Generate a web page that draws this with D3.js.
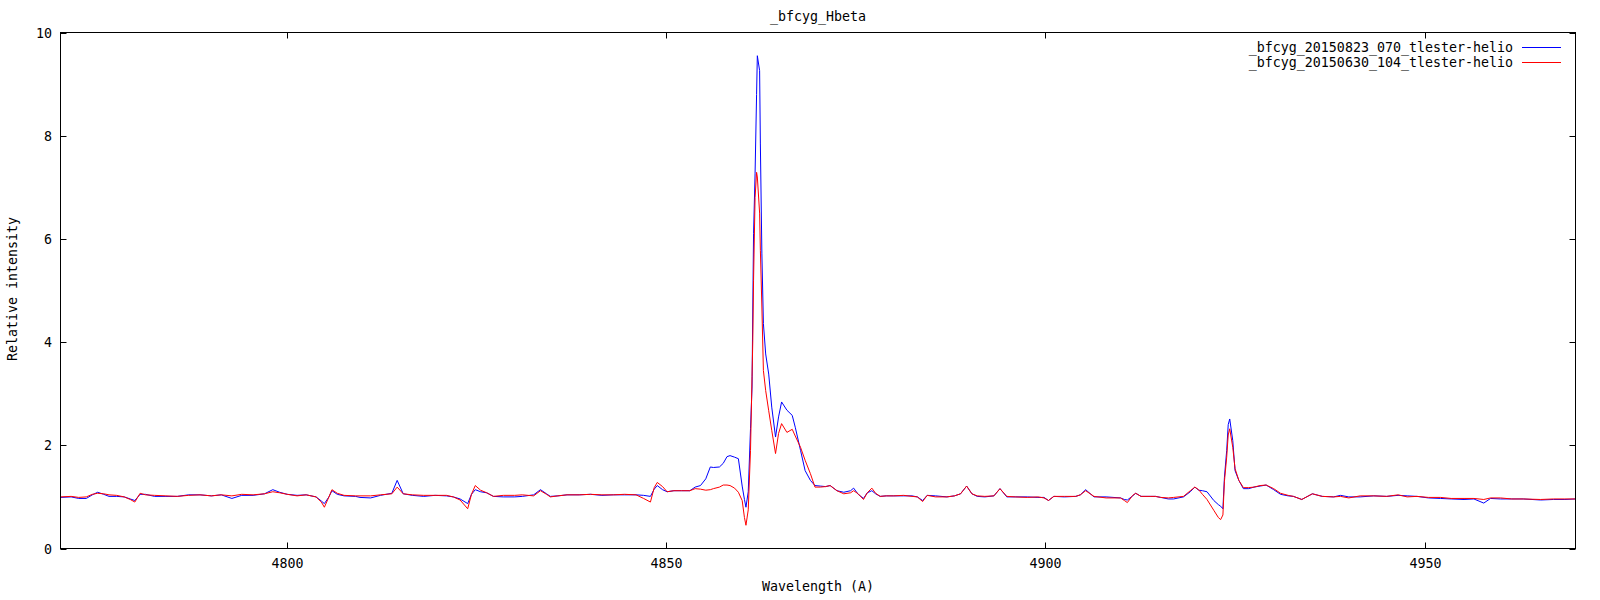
<!DOCTYPE html>
<html><head><meta charset="utf-8">
<script src="https://cdn.jsdelivr.net/npm/d3@7"></script>
<style>
html,body{margin:0;padding:0;background:#fff;}
svg text{font-family:"DejaVu Sans Mono","Liberation Mono",monospace;font-size:13.3px;fill:#000;}
</style></head>
<body><svg id="c" width="1600" height="600"></svg>
<script>
const title = "_bfcyg_Hbeta";
const xLabel = "Wavelength (A)";
const yLabel = "Relative intensity";
const seriesNames = ["_bfcyg_20150823_070_tlester-helio", "_bfcyg_20150630_104_tlester-helio"];
const seriesColors = ["#0000ff", "#ff0000"];
const xTicks = [4800, 4850, 4900, 4950];
const yTicks = [0, 2, 4, 6, 8, 10];

const wavelength = [
4770.1,4771.5,4772.5,4773.5,4774.3,4775.0,4775.8,4776.5,4777.5,4778.5,4779.3,4779.9,4780.6,4781.3,4782.5,4784,4785.5,4787,4788.5,4790,
4791.3,4792.7,4794,4795.5,4797,4798.1,4799,4800,4801.3,4802.5,4803.8,4804.5,4804.9,4805.5,4805.9,4806.6,4807.5,4809,
4809.6,4811,4812.3,4813.8,4814.5,4815.3,4816.5,4818,4819.5,4821,4821.9,4822.8,4823.8,4824.3,4824.8,4825.5,4826.3,4827.2,4828.5,4830,
4831,4832.5,4833.4,4834.2,4834.7,4835.7,4836.9,4838.5,4840,4841.5,4843,4844.5,4846,4847.0,4847.9,4848.4,4848.8,4849.5,4850.1,4851,4852,4853.1,
4853.8,4854.5,4855.2,4855.8,4856.2,4857.0,4857.5,4858.0,4858.4,4859.0,4859.5,4860.0,4860.3,4860.5,4860.8,4861.1,4861.3,4861.4,4861.5,4861.7,
4861.9,4862.0,4862.3,4862.4,4862.6,4862.8,4863.1,4863.5,4863.9,4864.4,4864.8,4865.2,4865.9,4866.6,4867.0,4867.7,4868.3,4869.0,4869.6,4870.3,
4871.0,4871.6,4872.5,4873.4,4874.3,4874.7,4875.3,4876.0,4876.5,4877.1,4877.6,4878.2,4879,4880,4881.3,4882.4,4883.1,4883.8,4884.4,4885.5,
4887,4888,4888.8,4889.6,4890.3,4891.0,4892,4893.2,4894.0,4894.9,4896,4897.6,4899,4899.8,4900.4,4901.1,4902.5,4904,4904.6,4905.3,
4906.0,4906.4,4908,4909.9,4910.4,4910.8,4911.5,4911.9,4912.6,4913.8,4914.5,4915.2,4916.2,4916.9,4918.2,4919.1,4919.7,4920.2,4920.7,4921.3,
4922.2,4922.8,4923.1,4923.4,4923.6,4923.9,4924.1,4924.3,4924.7,4925.0,4925.5,4926.1,4926.8,4927.5,4928.3,4929.1,4930.1,4931.0,4932.0,4932.7,
4933.8,4935.2,4936.5,4938,4938.9,4940,4941.5,4943.3,4945,4946.5,4947.7,4949,4950.5,4952.1,4953.5,4955.2,4956.5,4957.8,4958.7,4960,
4961.5,4963,4965.3,4967,4968.5,4969.9
];
const blueSeries = [
0.99,1.00,0.97,0.97,1.04,1.09,1.05,1.01,1.01,1.00,0.96,0.93,1.05,1.05,1.01,1.01,1.01,1.04,1.04,1.02,
1.04,0.97,1.03,1.03,1.06,1.14,1.09,1.05,1.03,1.04,1.00,0.92,0.87,1.00,1.12,1.05,1.02,1.01,
0.99,0.98,1.03,1.07,1.32,1.06,1.03,1.01,1.03,1.02,1.00,0.96,0.87,1.05,1.14,1.10,1.08,1.01,1.00,1.00,
1.01,1.04,1.14,1.06,1.01,1.02,1.04,1.04,1.05,1.03,1.04,1.04,1.04,1.03,1.01,1.15,1.22,1.14,1.10,1.12,1.12,1.12,
1.19,1.22,1.35,1.58,1.57,1.58,1.65,1.78,1.80,1.77,1.74,1.21,0.95,0.80,1.10,2.32,3.13,4.68,6.10,7.26,
8.80,9.55,9.26,7.84,5.71,4.36,3.77,3.38,2.74,2.16,2.55,2.84,2.68,2.58,2.35,1.90,1.51,1.32,1.22,1.21,
1.20,1.22,1.12,1.09,1.12,1.17,1.05,0.97,1.08,1.12,1.06,1.01,1.02,1.02,1.02,1.02,1.00,0.93,1.03,1.02,
1.00,1.02,1.06,1.21,1.06,1.01,1.00,1.02,1.16,1.00,1.00,1.00,0.99,0.99,0.93,1.01,1.00,1.01,1.04,1.14,
1.05,1.00,1.00,0.98,0.95,0.94,1.02,1.07,1.01,1.01,1.01,0.99,0.96,0.96,1.00,1.10,1.19,1.13,1.12,1.10,
0.93,0.85,0.82,0.77,1.38,1.90,2.40,2.51,2.09,1.51,1.32,1.16,1.16,1.19,1.21,1.23,1.14,1.05,1.02,1.01,
0.95,1.06,1.01,1.00,1.03,1.00,1.00,1.02,1.01,1.03,1.02,1.01,0.98,0.97,0.96,0.95,0.96,0.88,0.97,0.96,
0.96,0.96,0.94,0.95,0.95,0.96
];
const redSeries = [
1.00,1.01,0.99,1.00,1.05,1.07,1.06,1.04,1.03,1.00,0.95,0.90,1.07,1.04,1.03,1.02,1.01,1.03,1.04,1.02,
1.04,1.02,1.05,1.04,1.06,1.10,1.08,1.05,1.02,1.04,1.00,0.90,0.80,1.00,1.14,1.07,1.03,1.02,
1.02,1.02,1.04,1.06,1.19,1.06,1.04,1.03,1.03,1.03,1.00,0.94,0.77,1.05,1.22,1.13,1.08,1.01,1.03,1.03,
1.04,1.02,1.12,1.05,1.00,1.02,1.04,1.04,1.05,1.04,1.04,1.05,1.04,0.97,0.90,1.18,1.28,1.20,1.10,1.12,1.12,1.12,
1.16,1.15,1.13,1.14,1.16,1.19,1.23,1.23,1.22,1.17,1.09,0.93,0.60,0.45,0.75,1.90,3.33,4.03,5.20,6.80,
7.29,7.20,6.50,5.78,4.68,3.45,3.06,2.67,2.29,1.84,2.23,2.42,2.25,2.31,2.18,1.96,1.71,1.45,1.19,1.19,
1.20,1.22,1.12,1.06,1.08,1.12,1.06,0.95,1.08,1.17,1.07,1.01,1.02,1.02,1.03,1.01,1.00,0.91,1.03,1.00,
1.00,1.02,1.06,1.21,1.06,1.02,1.01,1.02,1.16,1.01,1.00,0.99,1.00,0.98,0.93,1.01,1.01,1.01,1.04,1.12,
1.05,1.01,0.98,0.98,0.93,0.89,1.03,1.07,1.01,1.01,1.01,0.99,0.98,0.99,1.01,1.12,1.19,1.14,1.05,0.95,
0.74,0.60,0.56,0.65,1.30,1.77,2.20,2.32,1.96,1.55,1.32,1.18,1.18,1.19,1.22,1.23,1.16,1.07,1.03,1.01,
0.95,1.06,1.01,1.00,1.01,0.98,1.02,1.02,1.01,1.04,1.00,1.01,0.99,0.99,0.97,0.97,0.97,0.95,0.98,0.98,
0.96,0.96,0.95,0.96,0.96,0.96
];

const svg = d3.select("#c");
const L = 60.5, R = 1575.5, T = 32.5, B = 548.5;
const x = d3.scaleLinear().domain([4770.1, 4969.9]).range([L, R]);
const y = d3.scaleLinear().domain([0, 10]).range([B, T]);

svg.append("clipPath").attr("id","clip").append("rect")
  .attr("x", L).attr("y", T).attr("width", R-L).attr("height", B-T);

const g = svg.append("g");
const tl = 6;
xTicks.forEach(t => {
  const px = Math.round(x(t)) + 0.5;
  g.append("line").attr("x1",px).attr("x2",px).attr("y1",B).attr("y2",B-tl).attr("stroke","#000");
  g.append("line").attr("x1",px).attr("x2",px).attr("y1",T).attr("y2",T+tl).attr("stroke","#000");
  g.append("text").attr("x",px).attr("y",568).attr("text-anchor","middle").text(t);
});
yTicks.forEach(t => {
  const py = Math.round(y(t)) + 0.5;
  g.append("line").attr("x1",L).attr("x2",L+tl).attr("y1",py).attr("y2",py).attr("stroke","#000");
  g.append("line").attr("x1",R).attr("x2",R-tl).attr("y1",py).attr("y2",py).attr("stroke","#000");
  g.append("text").attr("x",52).attr("y",py).attr("dy","0.35em").attr("text-anchor","end").text(t);
});

const series = [blueSeries, redSeries];
const line = d3.line().x((d,i)=>x(wavelength[i])).y(d=>y(d));
series.forEach((s,k) => {
  svg.append("path").datum(s).attr("d", line).attr("fill","none")
    .attr("stroke", seriesColors[k]).attr("stroke-width",1).attr("clip-path","url(#clip)");
});

svg.append("rect").attr("x",L).attr("y",T).attr("width",R-L).attr("height",B-T)
  .attr("fill","none").attr("stroke","#000").attr("stroke-width",1);

seriesNames.forEach((n,k) => {
  const ly = 47.5 + k*15;
  svg.append("text").attr("x",1513).attr("y",ly).attr("dy","0.35em").attr("text-anchor","end").text(n);
  svg.append("line").attr("x1",1522).attr("x2",1561).attr("y1",ly).attr("y2",ly)
    .attr("stroke",seriesColors[k]).attr("stroke-width",1);
});

svg.append("text").attr("x",(L+R)/2).attr("y",21).attr("text-anchor","middle").text(title);
svg.append("text").attr("x",(L+R)/2).attr("y",591).attr("text-anchor","middle").text(xLabel);
svg.append("text").attr("transform","translate(16.5,289) rotate(-90)").attr("text-anchor","middle").text(yLabel);
</script></body></html>
